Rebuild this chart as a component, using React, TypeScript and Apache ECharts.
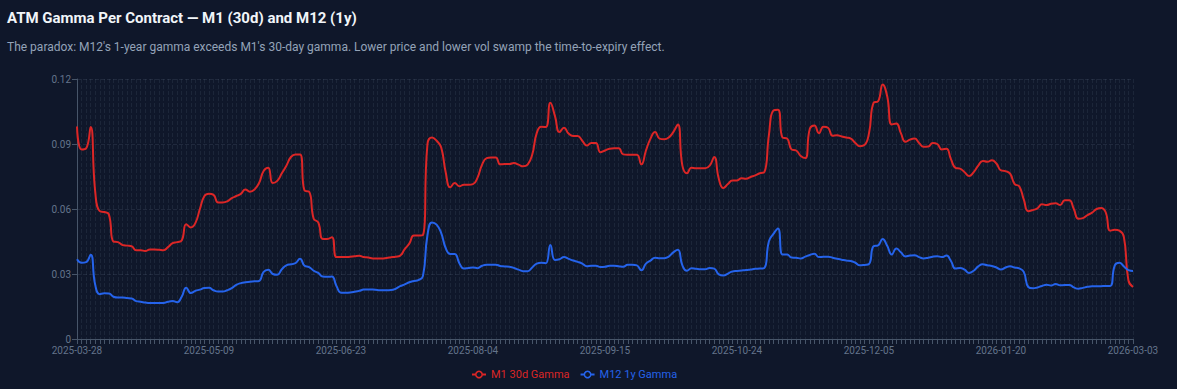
import React, { useEffect, useRef } from "react";
import * as echarts from "echarts";

const startDate = "2025-03-28";
const endDate = "2026-03-03";
const holidays = [
  "2025-04-18", "2025-05-26", "2025-06-19", "2025-07-04", "2025-09-01",
  "2025-11-27", "2025-12-25", "2026-01-01", "2026-01-19", "2026-02-16",
];

const yTicks = [0, 0.03, 0.06, 0.09, 0.12];

const m1Gamma = [
  0.0981, 0.0875, 0.0880, 0.0978, 0.0680, 0.0590, 0.0586, 0.0575, 0.0450, 0.0447,
  0.0434, 0.0431, 0.0428, 0.0410, 0.0410, 0.0406, 0.0413, 0.0413, 0.0412, 0.0410,
  0.0424, 0.0442, 0.0447, 0.0455, 0.0530, 0.0515, 0.0535, 0.0600, 0.0660, 0.0670,
  0.0665, 0.0630, 0.0630, 0.0635, 0.0650, 0.0660, 0.0670, 0.0690, 0.0680, 0.0690,
  0.0720, 0.0775, 0.0790, 0.0720, 0.0730, 0.0765, 0.0800,
  0.0840, 0.0852, 0.0852, 0.0685, 0.0680, 0.0555, 0.0538, 0.0462, 0.0462, 0.0470,
  0.0378, 0.0378, 0.0378, 0.0380, 0.0382, 0.0384, 0.0378, 0.0376, 0.0372, 0.0372,
  0.0372, 0.0374, 0.0377, 0.0380, 0.0385, 0.0415, 0.0440, 0.0478, 0.0478, 0.0480,
  0.0900, 0.0930, 0.0915, 0.0885, 0.0770, 0.0700, 0.0720, 0.0705, 0.0712, 0.0712,
  0.0715, 0.0745, 0.0805, 0.0835, 0.0838, 0.0838, 0.0806, 0.0808,
  0.0808, 0.0812, 0.0805, 0.0797, 0.0805, 0.0850, 0.0950, 0.0980, 0.0978, 0.1090,
  0.1030, 0.0955, 0.0975, 0.0948, 0.0937, 0.0937, 0.0915, 0.0893, 0.0905, 0.0905,
  0.0862, 0.0870, 0.0878, 0.0880, 0.0880, 0.0852, 0.0850, 0.0850, 0.0850, 0.0806,
  0.0870, 0.0925, 0.0955, 0.0925, 0.0922, 0.0930, 0.0955, 0.0990, 0.0800, 0.0765,
  0.0790, 0.0788, 0.0788, 0.0788, 0.0800, 0.0840, 0.0740,
  0.0697, 0.0715, 0.0732, 0.0732, 0.0742, 0.0740, 0.0748, 0.0755, 0.0765, 0.0770,
  0.0940, 0.1055, 0.1058, 0.0930, 0.0925, 0.0875, 0.0870, 0.0845, 0.0835, 0.0970,
  0.0985, 0.0950, 0.0980, 0.0975, 0.0938, 0.0940, 0.0935, 0.0930, 0.0925, 0.0905,
  0.0890, 0.0895, 0.0950, 0.1090, 0.1097, 0.1175, 0.1120, 0.0990, 0.0995, 0.0950,
  0.0910, 0.0920, 0.0925, 0.0905, 0.0887, 0.0888, 0.0905,
  0.0900, 0.0875, 0.0878, 0.0830, 0.0790, 0.0786, 0.0770, 0.0752, 0.0770, 0.0800,
  0.0822, 0.0818, 0.0825, 0.0810, 0.0778, 0.0775, 0.0763, 0.0715, 0.0705, 0.0644,
  0.0590, 0.0595, 0.0603, 0.0622, 0.0618, 0.0624, 0.0626, 0.0618, 0.0640, 0.0640,
  0.0600, 0.0555, 0.0558, 0.0572, 0.0583, 0.0600, 0.0605, 0.0585, 0.0500, 0.0504,
  0.0500, 0.0470, 0.0270, 0.0240,
];

const m12Gamma = [
  0.0368, 0.0352, 0.0355, 0.0389, 0.0250, 0.0207, 0.0211, 0.0210, 0.0195, 0.0191,
  0.0191, 0.0189, 0.0187, 0.0175, 0.0172, 0.0168, 0.0166, 0.0166, 0.0166, 0.0166,
  0.0172, 0.0175, 0.0170, 0.0195, 0.0237, 0.0212, 0.0222, 0.0228, 0.0235, 0.0236,
  0.0225, 0.0219, 0.0219, 0.0225, 0.0235, 0.0250, 0.0258, 0.0262, 0.0264, 0.0266,
  0.0268, 0.0310, 0.0320, 0.0300, 0.0296, 0.0322, 0.0340,
  0.0345, 0.0350, 0.0370, 0.0338, 0.0332, 0.0315, 0.0305, 0.0288, 0.0287, 0.0288,
  0.0245, 0.0214, 0.0214, 0.0215, 0.0218, 0.0222, 0.0228, 0.0229, 0.0228, 0.0226,
  0.0225, 0.0225, 0.0226, 0.0232, 0.0244, 0.0252, 0.0262, 0.0268, 0.0272, 0.0290,
  0.0480, 0.0538, 0.0528, 0.0490, 0.0420, 0.0392, 0.0392, 0.0350, 0.0325, 0.0328,
  0.0330, 0.0327, 0.0338, 0.0343, 0.0343, 0.0343, 0.0337, 0.0335,
  0.0333, 0.0328, 0.0320, 0.0313, 0.0313, 0.0330, 0.0348, 0.0352, 0.0350, 0.0434,
  0.0365, 0.0368, 0.0378, 0.0370, 0.0362, 0.0356, 0.0348, 0.0336, 0.0338, 0.0338,
  0.0332, 0.0333, 0.0338, 0.0338, 0.0336, 0.0333, 0.0343, 0.0343, 0.0340, 0.0317,
  0.0348, 0.0362, 0.0375, 0.0373, 0.0373, 0.0380, 0.0400, 0.0412, 0.0340, 0.0315,
  0.0326, 0.0324, 0.0322, 0.0322, 0.0328, 0.0325, 0.0298,
  0.0293, 0.0302, 0.0312, 0.0314, 0.0316, 0.0318, 0.0321, 0.0324, 0.0325, 0.0328,
  0.0450, 0.0485, 0.0510, 0.0390, 0.0390, 0.0376, 0.0375, 0.0372, 0.0380, 0.0388,
  0.0393, 0.0378, 0.0380, 0.0380, 0.0375, 0.0370, 0.0366, 0.0362, 0.0360, 0.0352,
  0.0340, 0.0342, 0.0346, 0.0428, 0.0432, 0.0462, 0.0430, 0.0390, 0.0418, 0.0400,
  0.0381, 0.0385, 0.0387, 0.0378, 0.0372, 0.0375, 0.0380,
  0.0382, 0.0378, 0.0385, 0.0360, 0.0325, 0.0328, 0.0320, 0.0305, 0.0315, 0.0335,
  0.0345, 0.0340, 0.0337, 0.0330, 0.0321, 0.0330, 0.0336, 0.0330, 0.0326, 0.0310,
  0.0240, 0.0234, 0.0238, 0.0245, 0.0250, 0.0247, 0.0254, 0.0248, 0.0249, 0.0249,
  0.0238, 0.0232, 0.0236, 0.0241, 0.0243, 0.0243, 0.0244, 0.0245, 0.0245, 0.0340,
  0.0352, 0.0335, 0.0318, 0.0314,
];

const seriesNames = ["M1 30d Gamma", "M12 1y Gamma"];
const seriesColors = ["#dc2626", "#2563eb"];

function tradingDays(start: string, end: string, skip: string[]): string[] {
  const out: string[] = [];
  const d = new Date(start + "T00:00:00Z");
  const e = new Date(end + "T00:00:00Z");
  while (d.getTime() <= e.getTime()) {
    const wd = d.getUTCDay();
    const s = d.toISOString().slice(0, 10);
    if (wd !== 0 && wd !== 6 && !skip.includes(s)) out.push(s);
    d.setUTCDate(d.getUTCDate() + 1);
  }
  return out;
}

const FONT = "Roboto, 'Noto Sans', sans-serif";
const BG = "#0f172a";

export default function App() {
  const ref = useRef<HTMLDivElement>(null);
  useEffect(() => {
    document.body.style.margin = "0";
    document.body.style.background = BG;
    if (!ref.current) return;
    const chart = echarts.init(ref.current, null, { renderer: "svg" });
    const dates = tradingDays(startDate, endDate, holidays);
    chart.setOption({
      animation: false,
      backgroundColor: BG,
      textStyle: { fontFamily: FONT },
      title: [
        {
          text: "ATM Gamma Per Contract — M1 (30d) and M12 (1y)",
          left: 7,
          top: 10,
          padding: 0,
          textStyle: { color: "#f1f5f9", fontSize: 15, fontWeight: "bold", fontFamily: FONT },
        },
        {
          text: "The paradox: M12's 1-year gamma exceeds M1's 30-day gamma. Lower price and lower vol swamp the time-to-expiry effect.",
          left: 7,
          top: 41,
          padding: 0,
          textStyle: { color: "#94a3b8", fontSize: 12, fontWeight: "normal", fontFamily: FONT },
        },
      ],
      legend: {
        bottom: 4,
        left: 466,
        itemWidth: 14,
        itemHeight: 8,
        itemGap: 10,
        data: seriesNames.map((n, i) => ({
          name: n,
          itemStyle: { color: BG, borderColor: seriesColors[i], borderWidth: 1.5 },
          textStyle: { color: seriesColors[i], fontSize: 11, fontFamily: FONT },
        })),
      },
      grid: { left: 77, right: 44, top: 79, bottom: 50, containLabel: false },
      xAxis: {
        type: "category",
        data: dates,
        boundaryGap: false,
        axisLine: { lineStyle: { color: "#475569" } },
        axisTick: { interval: 0, length: 5, lineStyle: { color: "#475569" } },
        axisLabel: { interval: 28, color: "#64748b", fontSize: 10, margin: 6, fontFamily: FONT },
        splitLine: {
          show: true,
          interval: 0,
          lineStyle: { color: "rgba(100,116,139,0.16)", type: "dashed" },
        },
      },
      yAxis: {
        type: "value",
        min: yTicks[0],
        max: yTicks[yTicks.length - 1],
        interval: 0.03,
        axisLine: { show: true, lineStyle: { color: "#475569" } },
        axisTick: { show: true, length: 5, lineStyle: { color: "#475569" } },
        axisLabel: { color: "#64748b", fontSize: 10, margin: 6, fontFamily: FONT },
        splitLine: { lineStyle: { color: "rgba(100,116,139,0.2)", type: "dashed" } },
      },
      series: [
        {
          name: seriesNames[0],
          type: "line",
          data: m1Gamma,
          smooth: true,
          symbol: "circle",
          showSymbol: false,
          color: seriesColors[0],
          lineStyle: { width: 2, color: seriesColors[0] },
        },
        {
          name: seriesNames[1],
          type: "line",
          data: m12Gamma,
          smooth: true,
          symbol: "circle",
          showSymbol: false,
          color: seriesColors[1],
          lineStyle: { width: 2, color: seriesColors[1] },
        },
      ],
    });
    return () => chart.dispose();
  }, []);
  return <div ref={ref} style={{ width: 1177, height: 389 }} />;
}
